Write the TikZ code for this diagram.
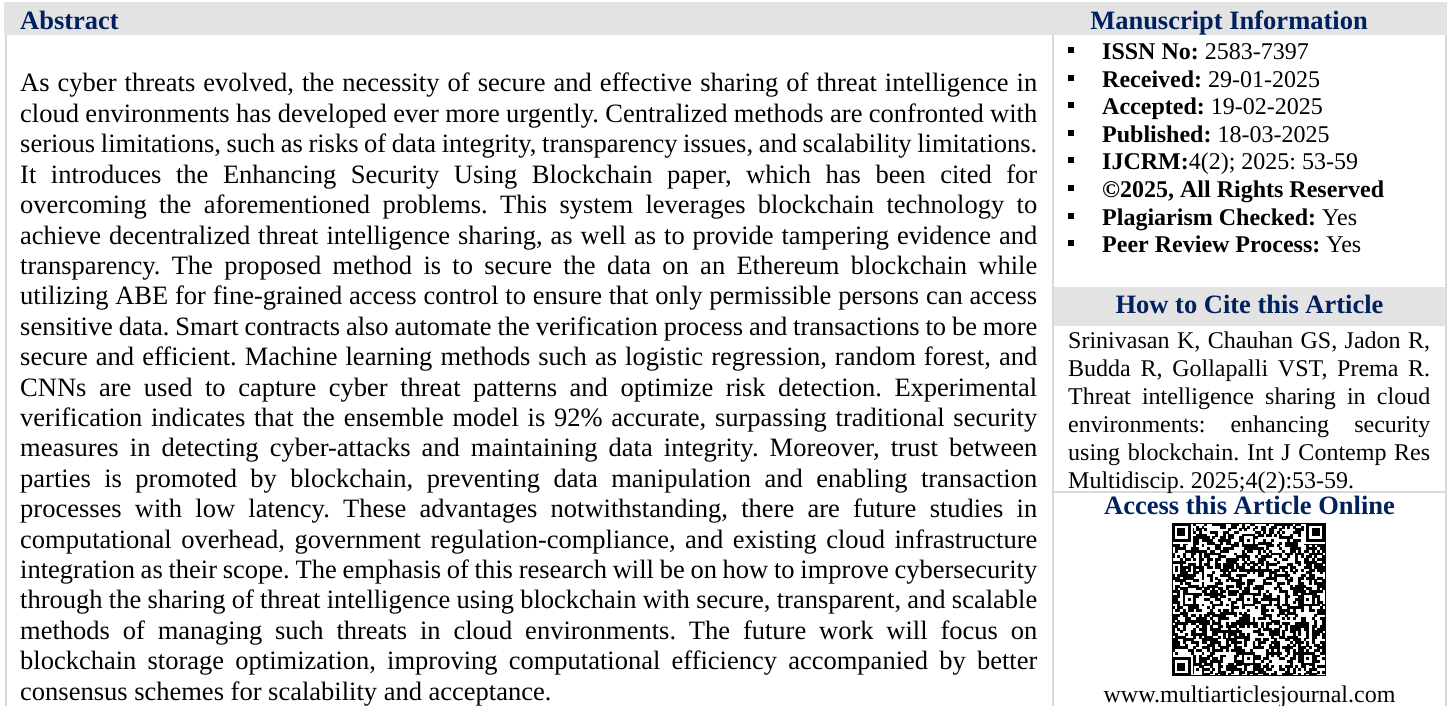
\documentclass[tikz,border=0pt]{standalone}
\usepackage{fontspec}
\setmainfont{Liberation Serif}
\definecolor{navy}{RGB}{0,32,96}
\definecolor{hdrgray}{RGB}{227,227,227}
\definecolor{linegray}{RGB}{217,217,217}
\begin{document}
\begin{tikzpicture}[x=1pt,y=-1pt,
  abs/.style={inner sep=0pt,anchor=base west,font=\fontsize{26.5}{30}\selectfont\frenchspacing},
  info/.style={inner sep=0pt,anchor=base west,font=\fontsize{24}{28}\selectfont\frenchspacing},
  ctr/.style={inner sep=0pt,anchor=base,font=\fontsize{24}{28}\selectfont},
  ttl/.style={inner sep=0pt,font=\fontsize{26.5}{30}\selectfont\bfseries,text=navy},
  rule/.style={linegray,line width=2pt},
  hdr/.style={fill=hdrgray,draw=none}]
\useasboundingbox (0,0) rectangle (1451,706);
\fill[white] (0,0) rectangle (1451,706);
% header bars
\path[hdr] (4,2) rectangle (1447,35);
\path[hdr] (1054,287) rectangle (1445,326);
% rules
\draw[rule] (6,35) -- (6,706);
\draw[rule] (1053,35) -- (1053,706);
\draw[rule] (1446,35) -- (1446,706);
\draw[rule] (1054,492) -- (1445,492);
% titles
\node[ttl,anchor=base west] (tabs) at (20,29.5) {Abstract};
\node[ttl,anchor=base] (tman) at (1229,29.5) {Manuscript Information};
\node[ttl,anchor=base] (tcite) at (1249.5,313) {How to Cite this Article};
\node[ttl,anchor=base] (tacc) at (1249.5,514) {Access this Article Online};
% abstract
\foreach \t [count=\k] in {
{As cyber threats evolved, the necessity of secure and effective sharing of threat intelligence in},
{cloud environments has developed ever more urgently. Centralized methods are confronted with},
{serious limitations, such as risks of data integrity, transparency issues, and scalability limitations.},
{It introduces the Enhancing Security Using Blockchain paper, which has been cited for},
{overcoming the aforementioned problems. This system leverages blockchain technology to},
{achieve decentralized threat intelligence sharing, as well as to provide tampering evidence and},
{transparency. The proposed method is to secure the data on an Ethereum blockchain while},
{utilizing ABE for fine-grained access control to ensure that only permissible persons can access},
{sensitive data. Smart contracts also automate the verification process and transactions to be more},
{secure and efficient. Machine learning methods such as logistic regression, random forest, and},
{CNNs are used to capture cyber threat patterns and optimize risk detection. Experimental},
{verification indicates that the ensemble model is 92\% accurate, surpassing traditional security},
{measures in detecting cyber-attacks and maintaining data integrity. Moreover, trust between},
{parties is promoted by blockchain, preventing data manipulation and enabling transaction},
{processes with low latency. These advantages notwithstanding, there are future studies in},
{computational overhead, government regulation-compliance, and existing cloud infrastructure},
{integration as their scope. The emphasis of this research will be on how to improve cybersecurity},
{through the sharing of threat intelligence using blockchain with secure, transparent, and scalable},
{methods of managing such threats in cloud environments. The future work will focus on},
{blockchain storage optimization, improving computational efficiency accompanied by better}}
{\node[abs] (a\k) at (20,{92+30.4*(\k-1)}) {\hbox to 1017pt{\t}};}
\node[abs] (a21) at (20,700) {consensus schemes for scalability and acceptance.};
% manuscript info
\foreach \t [count=\k] in {
{\textbf{ISSN No:} 2583-7397},
{\textbf{Received:} 29-01-2025},
{\textbf{Accepted:} 19-02-2025},
{\textbf{Published:} 18-03-2025},
{\textbf{IJCRM:}4(2); 2025: 53-59},
{\textbf{\char"00A9 2025, All Rights Reserved}},
{\textbf{Plagiarism Checked:} Yes},
{\textbf{Peer Review Process:} Yes}}
{\node[info] (m\k) at (1102,{59.5+27.6*(\k-1)}) {\t};
 \fill (1068,{59.5+27.6*(\k-1)-12.5}) rectangle (1074,{59.5+27.6*(\k-1)-6.5});}
% citation
\foreach \t [count=\k] in {
{Srinivasan K, Chauhan GS, Jadon R,},
{Budda R, Gollapalli VST, Prema R.},
{Threat intelligence sharing in cloud},
{environments: enhancing security},
{using blockchain. Int J Contemp Res}}
{\node[info] (c\k) at (1068,{348.5+27.9*(\k-1)}) {\hbox to 362pt{\t}};}
\node[info] (c6) at (1068,488) {Multidiscip. 2025;4(2):53-59.};
% QR code
\def\qx{1172}\def\qy{523}\def\qm{2.684}
\pgfmathsetseed{11}
\foreach \i in {0,...,56}{
  \foreach \j in {0,...,56}{
    \pgfmathtruncatemacro\qb{rnd<0.5 ? 1 : 0}
    \ifnum\qb=1
      \fill ({\qx+\i*\qm},{\qy+\j*\qm}) rectangle ++({\qm+0.25},{\qm+0.25});
    \fi
  }
}
% finder patterns (white separator, then rings)
\foreach \pa/\pb/\sa/\sb in {0/0/0/0,50/0/-1/0,0/50/0/-1}{
  \fill[white] ({\qx+(\pa+\sa)*\qm},{\qy+(\pb+\sb)*\qm}) rectangle ++({8*\qm},{8*\qm});
  \fill[black] ({\qx+\pa*\qm},{\qy+\pb*\qm}) rectangle ++({7*\qm},{7*\qm});
  \fill[white] ({\qx+(\pa+1)*\qm},{\qy+(\pb+1)*\qm}) rectangle ++({5*\qm},{5*\qm});
  \fill[black] ({\qx+(\pa+2)*\qm},{\qy+(\pb+2)*\qm}) rectangle ++({3*\qm},{3*\qm});
}
% alignment patterns
\foreach \ci/\cj in {28/6,6/28,28/28,50/28,28/50,50/50}{
  \fill[black] ({\qx+(\ci-2)*\qm},{\qy+(\cj-2)*\qm}) rectangle ++({5*\qm},{5*\qm});
  \fill[white] ({\qx+(\ci-1)*\qm},{\qy+(\cj-1)*\qm}) rectangle ++({3*\qm},{3*\qm});
  \fill[black] ({\qx+\ci*\qm},{\qy+\cj*\qm}) rectangle ++({\qm},{\qm});
}
\draw[black,line width=1pt] (\qx,\qy) rectangle ({\qx+57*\qm},{\qy+57*\qm});
\node[ctr] (url) at (1249.5,702) {www.multiarticlesjournal.com};
\end{tikzpicture}
\end{document}
